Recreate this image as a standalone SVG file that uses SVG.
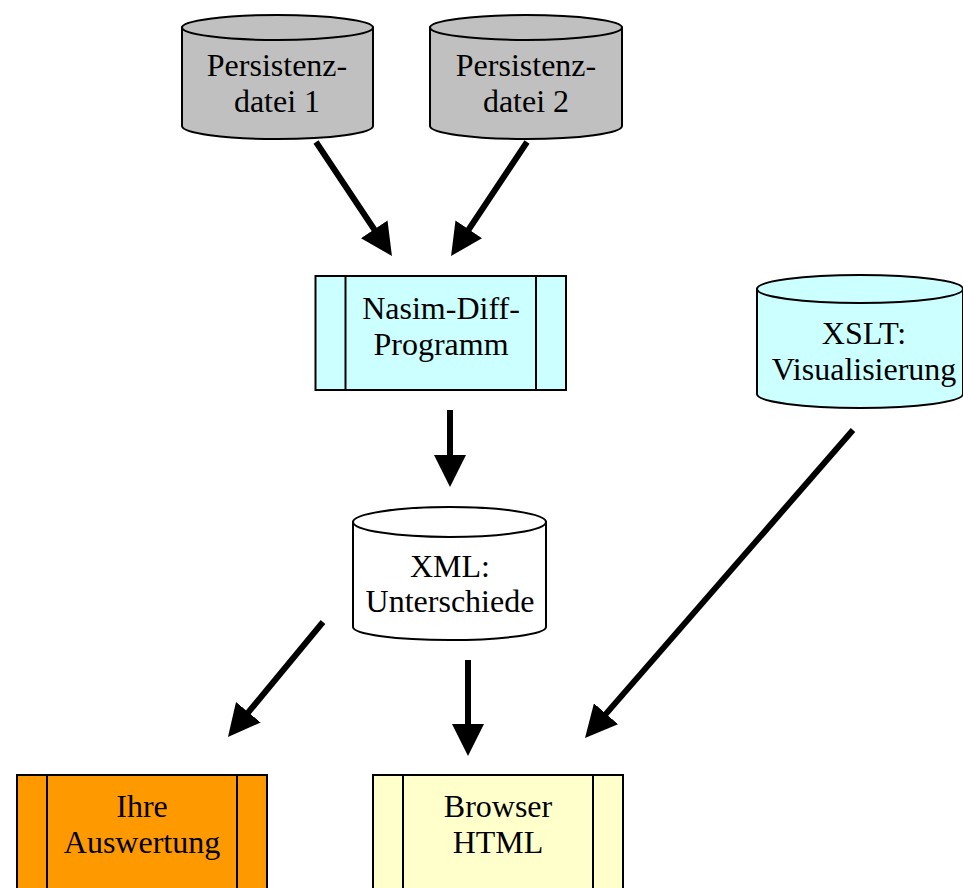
<svg xmlns="http://www.w3.org/2000/svg" width="963" height="888" viewBox="0 0 963 888">
  <defs>
    <marker id="head" markerUnits="userSpaceOnUse" viewBox="0 0 32 32" markerWidth="32" markerHeight="32" refX="20" refY="16" orient="auto">
      <path d="M0,0 L32,16 L0,32 Z" fill="#000"/>
    </marker>
    <style>
      .shape { stroke: #000; stroke-width: 2; }
      .gray { fill: #c0c0c0; }
      .cyan { fill: #ccffff; }
      .white { fill: #ffffff; }
      .orange { fill: #ff9900; }
      .yellow { fill: #ffffcc; }
      .label { font-family: "Liberation Serif", "Times New Roman", serif; font-size: 32px; fill: #000; text-anchor: middle; }
      .edge { stroke: #000; stroke-width: 6; fill: none; marker-end: url(#head); }
    </style>
  </defs>
  <rect width="963" height="888" fill="#ffffff"/>

  <!-- storage: Persistenzdatei 1 -->
  <g id="persistenz1">
    <path class="shape gray" d="M182,27.5 V126 A95.5,13 0 0 0 373,126 V27.5 Z"/>
    <ellipse class="shape gray" cx="277.5" cy="27.5" rx="95.5" ry="12.5"/>
    <text class="label" x="277" y="76">Persistenz-</text>
    <text class="label" x="277" y="112">datei 1</text>
  </g>

  <!-- storage: Persistenzdatei 2 -->
  <g id="persistenz2">
    <path class="shape gray" d="M430,27.5 V126 A96,13 0 0 0 622,126 V27.5 Z"/>
    <ellipse class="shape gray" cx="526" cy="27.5" rx="96" ry="12.5"/>
    <text class="label" x="526" y="76">Persistenz-</text>
    <text class="label" x="526" y="112">datei 2</text>
  </g>

  <!-- process: Nasim-Diff-Programm -->
  <g id="nasim">
    <rect class="shape cyan" x="315.5" y="276" width="250.5" height="114"/>
    <line class="shape" x1="345.5" y1="276" x2="345.5" y2="390"/>
    <line class="shape" x1="536" y1="276" x2="536" y2="390"/>
    <text class="label" x="441" y="319">Nasim-Diff-</text>
    <text class="label" x="441" y="355">Programm</text>
  </g>

  <!-- storage: XSLT Visualisierung -->
  <g id="xslt">
    <path class="shape cyan" d="M757,289 V394 A103,14 0 0 0 963,394 V289 Z"/>
    <ellipse class="shape cyan" cx="860" cy="289" rx="103" ry="14"/>
    <text class="label" x="864" y="344">XSLT:</text>
    <text class="label" x="864" y="380">Visualisierung</text>
  </g>

  <!-- storage: XML Unterschiede -->
  <g id="xml">
    <path class="shape white" d="M353,522 V627 A96.5,13 0 0 0 546,627 V522 Z"/>
    <ellipse class="shape white" cx="449.5" cy="522" rx="96.5" ry="15"/>
    <text class="label" x="450" y="577">XML:</text>
    <text class="label" x="450" y="612">Unterschiede</text>
  </g>

  <!-- process: Ihre Auswertung -->
  <g id="auswertung">
    <rect class="shape orange" x="17" y="775" width="250" height="130"/>
    <line class="shape" x1="47" y1="775" x2="47" y2="905"/>
    <line class="shape" x1="237" y1="775" x2="237" y2="905"/>
    <text class="label" x="142" y="817">Ihre</text>
    <text class="label" x="142" y="853">Auswertung</text>
  </g>

  <!-- process: Browser HTML -->
  <g id="browser">
    <rect class="shape yellow" x="373" y="775" width="250" height="130"/>
    <line class="shape" x1="403" y1="775" x2="403" y2="905"/>
    <line class="shape" x1="593" y1="775" x2="593" y2="905"/>
    <text class="label" x="498" y="817">Browser</text>
    <text class="label" x="498" y="853">HTML</text>
  </g>

  <!-- connectors -->
  <g id="connectors">
    <line class="edge" x1="316" y1="142" x2="385.3" y2="246"/>
    <line class="edge" x1="527" y1="142" x2="457.7" y2="246"/>
    <line class="edge" x1="450" y1="410" x2="450" y2="475"/>
    <line class="edge" x1="853" y1="430" x2="592.9" y2="728.9"/>
    <line class="edge" x1="323" y1="622" x2="235.6" y2="727.7"/>
    <line class="edge" x1="468" y1="660" x2="468" y2="744"/>
  </g>
</svg>
